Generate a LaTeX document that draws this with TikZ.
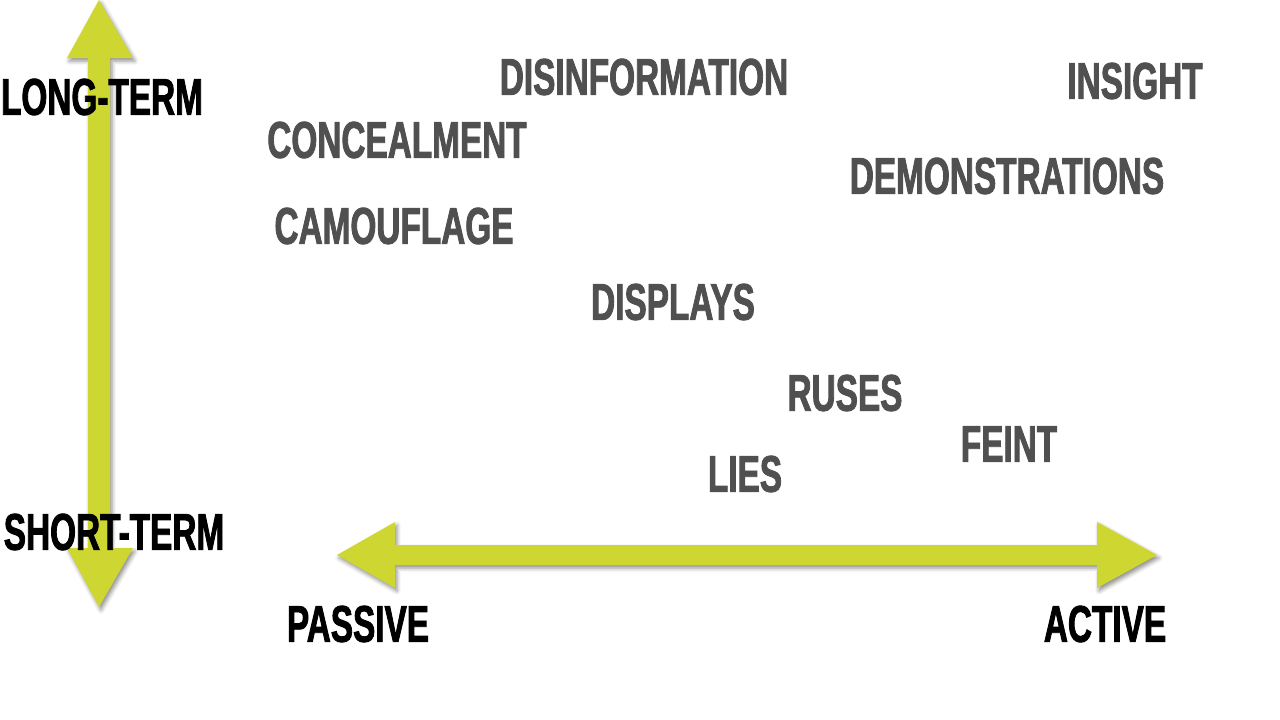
\documentclass[tikz,border=0pt]{standalone}
\usepackage{fontspec}
\usepackage{xcolor}
\usetikzlibrary{shadows.blur}

\newfontfamily\impactfont[FakeStretch=0.645,FakeBold=1.6,UprightFont={* Bold}]{Liberation Sans}
\definecolor{axisgreen}{RGB}{206,214,50}
\definecolor{termgray}{RGB}{80,80,80}

\tikzset{
  term/.style={inner sep=0pt, text=termgray, font=\impactfont\fontsize{51.7}{60}\selectfont},
  axislabel/.style={inner sep=0pt, text=black, font=\impactfont\fontsize{51.7}{60}\selectfont},
  axisarrow/.style={fill=axisgreen, draw=none,
    blur shadow={shadow xshift=2pt, shadow yshift=-3pt, shadow blur radius=4pt, shadow opacity=45}}
}

\begin{document}
\begin{tikzpicture}[x=1pt, y=-1pt]
    \useasboundingbox (0,0) rectangle (1280,720);

    % vertical axis: long-term / short-term
    \fill[axisarrow] (99,0) -- (133,58) -- (110,58) -- (110,548) -- (133,548)
        -- (99,607) -- (67,548) -- (88,548) -- (88,58) -- (67,58) -- cycle;

    % horizontal axis: passive / active
    \fill[axisarrow] (337,555) -- (395,522) -- (395,545) -- (1097,545) -- (1097,522)
        -- (1157,555) -- (1097,588) -- (1097,565) -- (395,565) -- (395,588) -- cycle;

    % axis labels
    \node[axislabel] (longterm) at (102,97) {LONG-TERM};
    \node[axislabel] (shortterm) at (114,532) {SHORT-TERM};
    \node[axislabel] (passive) at (358,624) {PASSIVE};
    \node[axislabel] (active) at (1105,624) {ACTIVE};

    % terms
    \node[term] (disinfo) at (644,77) {DISINFORMATION};
    \node[term] (conceal) at (397,140) {CONCEALMENT};
    \node[term] (camo) at (394,226) {CAMOUFLAGE};
    \node[term] (insight) at (1135,81) {INSIGHT};
    \node[term] (demos) at (1007,176) {DEMONSTRATIONS};
    \node[term] (displays) at (673,302) {DISPLAYS};
    \node[term] (ruses) at (845,393) {RUSES};
    \node[term] (feint) at (1009,444) {FEINT};
    \node[term] (lies) at (745,474) {LIES};

\end{tikzpicture}
\end{document}
